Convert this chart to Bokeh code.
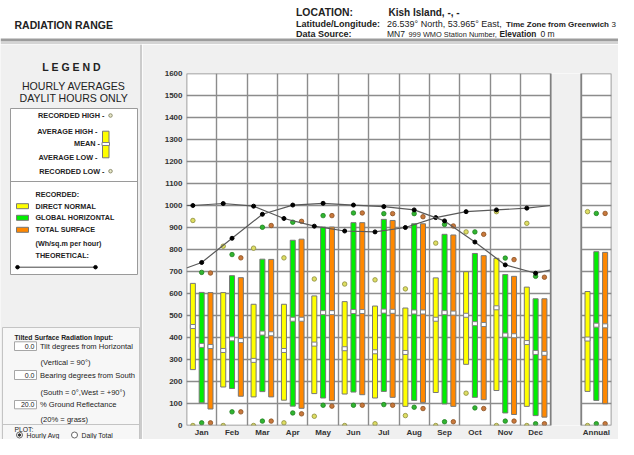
from bokeh.plotting import figure
from bokeh.models import ColumnDataSource, FixedTicker, Range1d
from bokeh.layouts import column, row
from bokeh.embed import file_html
from bokeh.resources import INLINE
from bokeh.core.properties import value

# ---------------- data ----------------
months = ["Jan", "Feb", "Mar", "Apr", "May", "Jun", "Jul", "Aug", "Sep", "Oct", "Nov", "Dec"]
annual_label = "Annual"

# Direct normal (yellow): 12 months + annual
dn_avg_high = [646, 604, 551, 551, 589, 563, 543, 534, 671, 699, 760, 629, 609]
dn_avg_low = [254, 175, 130, 115, 145, 143, 125, 87, 150, 278, 159, 87, 155]
dn_mean = [450, 341, 296, 341, 370, 349, 335, 332, 483, 501, 535, 377, 393]
dn_rec_high = [932, 815, 806, 762, 666, 643, 662, 621, 829, 880, 972, 919, 972]
dn_rec_low = [0, 0, 0, 12, 42, 0, 8, 45, 0, 147, 0, 0, 0]

# Global horizontal (green)
gh_avg_high = [605, 681, 756, 842, 902, 922, 937, 917, 869, 782, 686, 576, 790]
gh_avg_low = [103, 168, 154, 88, 125, 152, 155, 114, 98, 128, 57, 45, 114]
gh_mean = [364, 394, 420, 483, 513, 518, 520, 516, 513, 463, 411, 332, 456]
gh_rec_high = [696, 777, 901, 924, 954, 966, 963, 963, 914, 880, 761, 678, 964]
gh_rec_low = [12, 62, 20, 57, 92, 92, 95, 83, 17, 80, 20, 8, 8]

# Total surface (orange)
ts_avg_high = [604, 672, 755, 847, 902, 922, 932, 917, 866, 772, 678, 576, 787]
ts_avg_low = [75, 133, 130, 78, 113, 140, 128, 105, 87, 117, 50, 38, 99]
ts_mean = [359, 386, 417, 483, 513, 518, 519, 516, 511, 459, 408, 328, 453]
ts_rec_high = [693, 762, 909, 928, 954, 966, 963, 949, 907, 869, 754, 674, 964]
ts_rec_low = [12, 62, 20, 53, 88, 92, 92, 77, 17, 77, 20, 8, 8]

# Theoretical (monthly) and the values where the curves meet the plot edges
theo_dn = [1000, 1009, 997, 941, 906, 884, 880, 900, 945, 972, 980, 988]
theo_gh = [741, 851, 960, 1002, 1010, 1002, 995, 980, 930, 834, 730, 692]
theo_dn_edges = [1000, 1000]
theo_gh_edges = [716, 707]

# ---------------- styling constants ----------------
FONT = value("Liberation Sans")
BG = "#f0f0f0"
GRID = "#8c8c8c"
COLORS = {"dn": "#ffff00", "gh": "#00ee00", "ts": "#ff8800"}
DOT_FILL = {"dn": "#dede62", "gh": "#30b530", "ts": "#c8783c"}
DOT_LINE = {"dn": "#8c8c3c", "gh": "#1f7f1f", "ts": "#8a5020"}
OFFSET = {"dn": -0.29, "gh": 0.0, "ts": 0.29}
BW = 0.165

# month centres 1..12, annual at 14 (gap 12.5..13.5)
x_centres = list(range(1, 13)) + [14]
labels = months + [annual_label]


def txt(fig, x, y, s, size="7px", style="normal", align="left", color="#222222"):
    fig.text(x=[x], y=[y], text=[s], text_font=FONT, text_font_size=size,
             text_font_style=style, text_align=align, text_baseline="middle",
             text_color=color)


def blank(width, height, xr, yr, bg):
    f = figure(width=width, height=height, x_range=Range1d(*xr), y_range=Range1d(*yr),
               output_backend="svg", toolbar_location=None, frame_align=False,
               x_axis_type=None, y_axis_type=None,
               min_border=0, min_border_left=0, min_border_right=0,
               min_border_top=0, min_border_bottom=0)
    f.outline_line_color = None
    f.background_fill_color = bg
    f.border_fill_color = bg
    return f


# ---------------- main chart ----------------
main = figure(width=476, height=395, x_range=Range1d(0.5, 14.5), y_range=Range1d(0, 1600),
              output_backend="svg", toolbar_location=None, frame_align=False,
              min_border_left=44, min_border_right=7, min_border_top=29, min_border_bottom=12)
main.background_fill_color = "white"
main.border_fill_color = BG
main.outline_line_color = None

main.xgrid.ticker = FixedTicker(ticks=[i + 0.5 for i in range(15)])
main.ygrid.ticker = FixedTicker(ticks=list(range(0, 1700, 100)))
for g in (main.xgrid, main.ygrid):
    g.grid_line_color = GRID
    g.grid_line_width = 1.4

main.xaxis.ticker = FixedTicker(ticks=x_centres)
main.xaxis.major_label_overrides = {x: l for x, l in zip(x_centres, labels)}
main.yaxis.ticker = FixedTicker(ticks=list(range(0, 1700, 100)))
for ax in (main.xaxis, main.yaxis):
    ax.axis_line_color = None
    ax.major_tick_line_color = None
    ax.minor_tick_line_color = None
    ax.major_tick_out = 0
    ax.major_tick_in = 0
    ax.major_label_text_font = "Liberation Sans"
    ax.major_label_text_font_style = "bold"
    ax.major_label_text_font_size = "8px"
    ax.major_label_text_color = "#333333"
main.xaxis.major_label_standoff = 2
main.yaxis.major_label_standoff = 4

# gap between the monthly panel and the annual panel
main.quad(left=[12.5], right=[13.5], bottom=[0], top=[1600], fill_color=BG, line_color=None)

series = {
    "dn": (dn_avg_high, dn_avg_low, dn_mean, dn_rec_high, dn_rec_low),
    "gh": (gh_avg_high, gh_avg_low, gh_mean, gh_rec_high, gh_rec_low),
    "ts": (ts_avg_high, ts_avg_low, ts_mean, ts_rec_high, ts_rec_low),
}
for key, (hi, lo, mn, rh, rl) in series.items():
    xs = [x + OFFSET[key] for x in x_centres]
    src = ColumnDataSource(dict(x=xs, hi=hi, lo=lo, mn=mn, rh=rh, rl=rl))
    main.vbar(x="x", top="hi", bottom="lo", width=BW, source=src,
              fill_color=COLORS[key], line_color="#777777", line_width=1)
    main.rect(x="x", y="mn", width=BW, height=4, height_units="screen", source=src,
              fill_color="white", line_color="#808080", line_width=1)
    main.scatter(x="x", y="rh", size=4.5, source=src, fill_color=DOT_FILL[key],
                 line_color=DOT_LINE[key], line_width=0.8)
    main.scatter(x="x", y="rl", size=4.5, source=src, fill_color=DOT_FILL[key],
                 line_color=DOT_LINE[key], line_width=0.8)

# theoretical curves
for key, vals, edges in (("dn", theo_dn, theo_dn_edges), ("gh", theo_gh, theo_gh_edges)):
    xs = [x + OFFSET[key] for x in range(1, 13)]
    main.line(x=[0.5] + xs + [12.5], y=[edges[0]] + vals + [edges[1]],
              line_color="#5a5a5a", line_width=1.2)
    main.scatter(x=xs, y=vals, size=4, fill_color="black", line_color="black")

# panel borders
main.quad(left=[0.5, 13.5], right=[12.5, 14.5], bottom=[0, 0], top=[1600, 1600],
          fill_color=None, line_color="#808080", line_width=1.6)

# ---------------- header ----------------
head = blank(618, 44, (0, 618), (50, 6), "white")
head.quad(left=[0], right=[618], top=[44], bottom=[47], fill_color="#9c9c9c", line_color=None)
head.quad(left=[0], right=[618], top=[47], bottom=[50], fill_color="#d4d4d4", line_color=None)

txt(head, 14, 30, "RADIATION RANGE", "10.5px", "bold")
txt(head, 295.5, 18, "LOCATION:", "10.4px", "bold")
txt(head, 388, 18, "Kish Island, -, -", "10px", "bold")
txt(head, 295.5, 29.5, "Latitude/Longitude:", "9px", "bold")
txt(head, 386.5, 29.5, "26.539° North, 53.965° East,", "9px")
txt(head, 505.5, 29.5, "Time Zone from Greenwich", "8px", "bold")
txt(head, 611, 29.5, "3", "8px")
txt(head, 295.5, 39.5, "Data Source:", "9px", "bold")
txt(head, 386.5, 39.5, "MN7", "8.5px")
txt(head, 408, 39.5, "999 WMO Station Number,", "7.4px")
txt(head, 499, 39.5, "Elevation", "8.3px", "bold")
txt(head, 540, 39.5, "0 m", "8.5px")

# ---------------- left legend panel ----------------
left = blank(142, 395, (0, 142), (445, 50), BG)
left.segment(x0=[140.5], y0=[50], x1=[140.5], y1=[445], line_color="#a8a8a8", line_width=1)

txt(left, 71, 72, "L E G E N D", "10.5px", "bold", "center")
txt(left, 73.3, 91, "HOURLY AVERAGES", "10.6px", "normal", "center")
txt(left, 73.3, 103, "DAYLIT HOURS ONLY", "10.6px", "normal", "center")

left.quad(left=[10], right=[137], top=[114], bottom=[280], fill_color="white", line_color="#9a9a9a")
left.segment(x0=[10], y0=[187], x1=[137], y1=[187], line_color="#9a9a9a")

for s, xr, yy in (("RECORDED HIGH -", 104, 121), ("AVERAGE HIGH -", 97, 136.7),
                  ("MEAN -", 99.5, 149.3), ("AVERAGE LOW -", 97, 163.3),
                  ("RECORDED LOW -", 104, 176.7)):
    txt(left, xr, yy, s, "7.3px", "bold", "right")
left.scatter(x=[110, 110], y=[121, 176.7], size=3.5, fill_color="#e8e8c8", line_color="#8c8c6c")
left.quad(left=[102], right=[108.5], top=[136.7], bottom=[163.3], fill_color=COLORS["dn"], line_color="#777777")
left.quad(left=[101.5], right=[109], top=[148], bottom=[151], fill_color="white", line_color="#808080")

txt(left, 35, 200, "RECORDED:", "7.2px", "bold")
for key, s, yy in (("dn", "DIRECT NORMAL", 211.7), ("gh", "GLOBAL HORIZONTAL", 223.3),
                   ("ts", "TOTAL SURFACE", 235.3)):
    left.quad(left=[16], right=[28], top=[yy - 2.5], bottom=[yy + 2.5], fill_color=COLORS[key], line_color="#777777")
    txt(left, 35, yy, s, "7.2px", "bold")
txt(left, 35, 248.7, "(Wh/sq.m per hour)", "7.2px", "bold")
txt(left, 35, 260.7, "THEORETICAL:", "7.2px", "bold")
left.line(x=[17, 95], y=[272.7, 272.7], line_color="#444444", line_width=1)
left.scatter(x=[17, 95], y=[272.7, 272.7], size=3.5, fill_color="black", line_color="black")

# tilted surface box
left.quad(left=[2], right=[139], top=[333], bottom=[460], fill_color="#f7f7f7", line_color="#c4c4c4")
txt(left, 14, 343.3, "Tilted Surface Radiation Input:", "6.8px", "bold")
for (y0, y1, v, s1, s2, ys2) in ((347.3, 356, "0.0", "Tilt degrees from Horizontal", "(Vertical = 90°)", 368.3),
                                 (376, 385, "0.0", "Bearing degrees from South", "(South = 0°,West = +90°)", 397.5),
                                 (406, 414.3, "20.0", "% Ground Reflectance", "(20% = grass)", 424.5)):
    left.quad(left=[14], right=[36], top=[y0], bottom=[y1], fill_color="white", line_color="#a6a6a6")
    txt(left, 34, (y0 + y1) / 2, v, "7px", "normal", "right")
    txt(left, 39.5, (y0 + y1) / 2, s1, "7.6px")
    txt(left, 40, ys2, s2, "7.6px")
left.segment(x0=[2], y0=[430], x1=[139], y1=[430], line_color="#c4c4c4")
txt(left, 14, 434.5, "PLOT:", "6.8px")
left.scatter(x=[19, 74], y=[440.5, 440.5], size=6, fill_color="white", line_color="#666666")
left.scatter(x=[19], y=[440.5], size=2.5, fill_color="#333333", line_color="#333333")
txt(left, 26, 440.5, "Hourly Avg", "6.8px")
txt(left, 81, 440.5, "Daily Total", "6.8px")

layout = column(head, row(left, main, spacing=0), spacing=0)
open("out.html", "w").write(file_html(layout, INLINE))
